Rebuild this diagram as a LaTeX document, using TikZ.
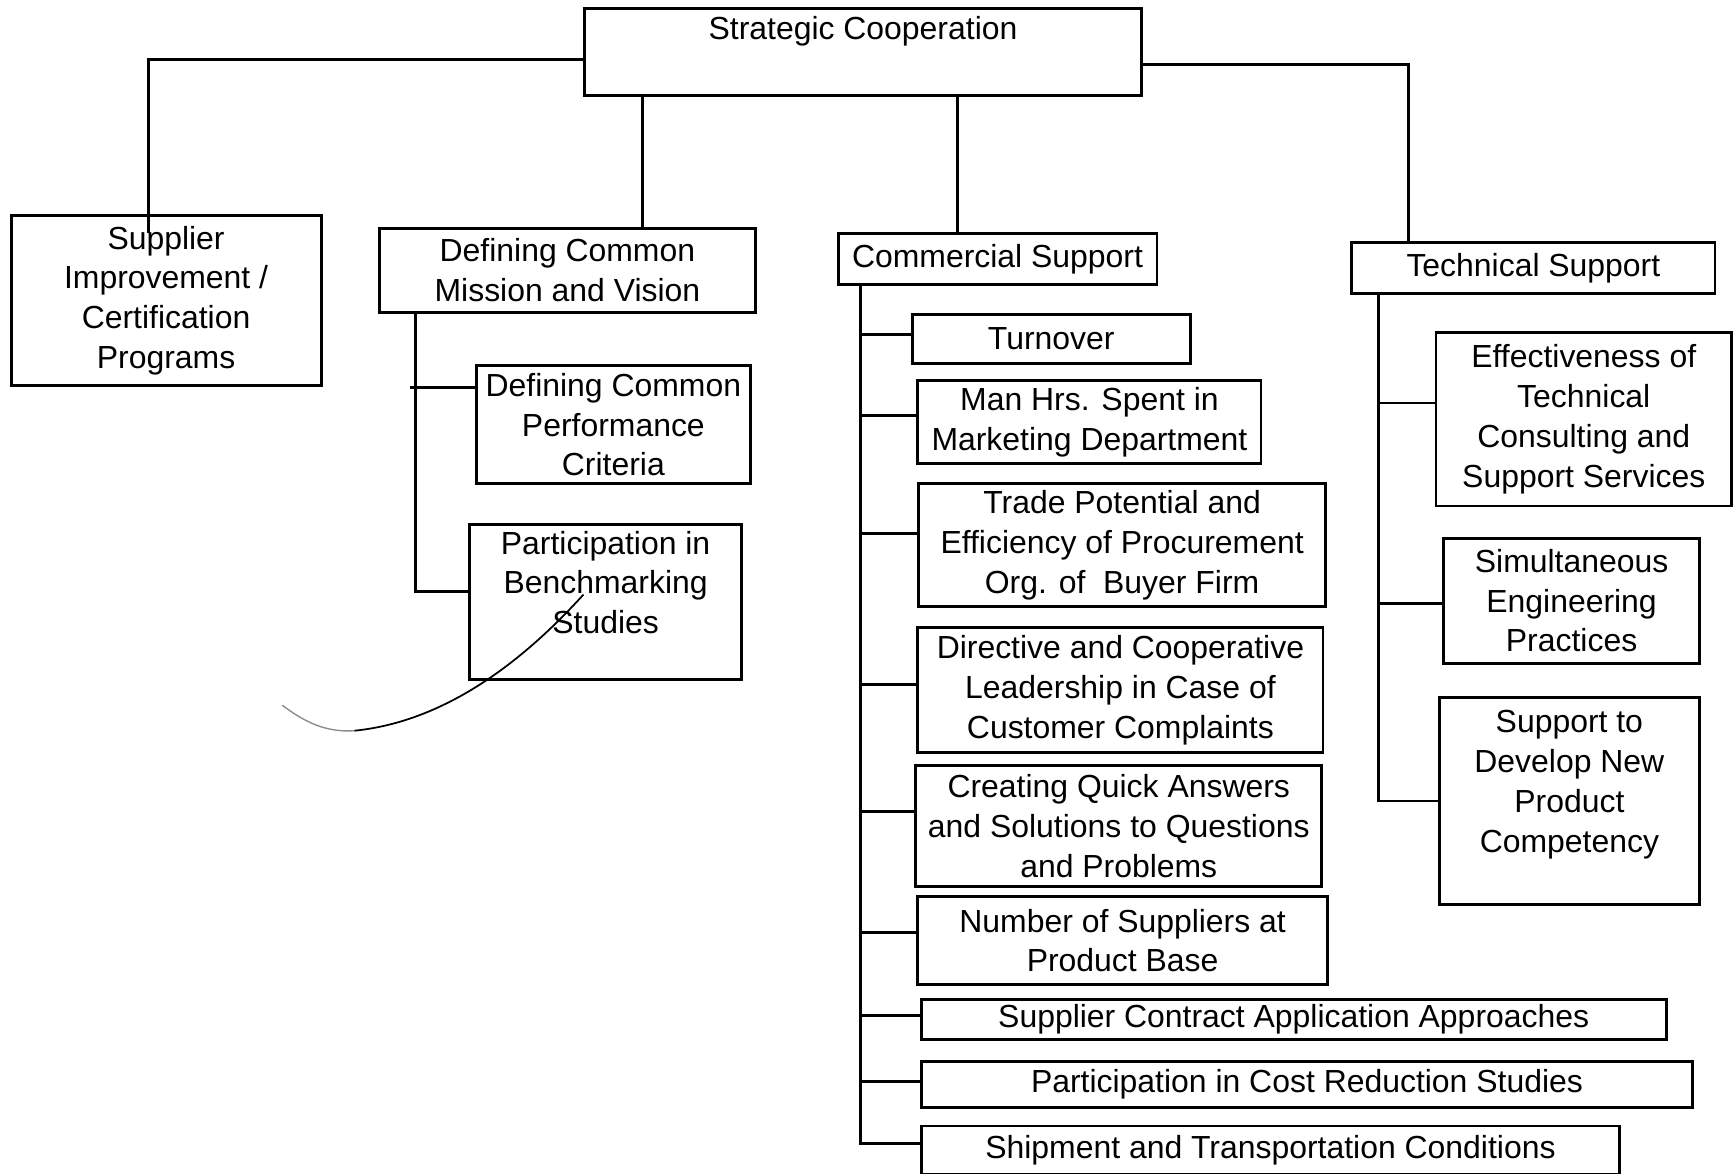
\documentclass[tikz,border=0pt]{standalone}
\usepackage{fontspec}
\setmainfont{Liberation Sans}
\usetikzlibrary{calc}
\begin{document}
\begin{tikzpicture}[x=0.01cm,y=-0.01cm,
  box/.style={draw, line width=0.75pt, inner sep=0pt, align=center,
    font=\fontsize{8.2}{10.24}\selectfont},
  wh/.style 2 args={minimum width=#1*0.01cm, minimum height=#2*0.01cm},
  link/.style={line width=0.75pt}]

\fill[white] (0,0) rectangle (1568,1060);
\useasboundingbox (0,0) rectangle (1568,1060);

% root
\node[box, wh={503}{78}] (strat) at (779.5,47) {Strategic Cooperation\\[0.08cm]\mbox{}};

% first level
\node[box, wh={280}{153}] (sup)  at (150,271.5) {Supplier\\Improvement /\\Certification\\Programs};
\node[box, wh={339}{76}]  (mis)  at (512.5,244) {Defining Common\\Mission and Vision};
\node[box, wh={288}{46}]  (com)  at (901,234)   {Commercial Support};
\node[box, wh={328}{46}]  (tech) at (1385,242)  {Technical Support};

% mission and vision branch
\node[box, wh={248}{107}] (perf)  at (554,383.5) {Defining Common\\Performance\\Criteria};
\node[box, wh={246}{140}] (bench) at (547,544)   {Participation in\\Benchmarking\\Studies\\\mbox{}};

% commercial support branch
\node[box, wh={251}{44}]  (turn)  at (949.5,306)   {Turnover};
\node[box, wh={310}{75}]  (man)   at (984,381.5)   {Man Hrs. Spent in\\Marketing Department};
\node[box, wh={367}{111}] (trade) at (1013.5,492.5){Trade Potential and\\Efficiency of Procurement\\Org. of\ \ Buyer Firm};
\node[box, wh={366}{113}] (dir)   at (1012,623.5)  {Directive and Cooperative\\Leadership in Case of\\Customer Complaints};
\node[box, wh={367}{110}] (cre)   at (1010.5,746)  {Creating Quick Answers\\and Solutions to Questions\\and Problems};
\node[box, wh={370}{79}]  (num)   at (1014,849.5)  {Number of Suppliers at\\Product Base};
\node[box, wh={673}{36}]  (scon)  at (1168.5,921)  {Supplier Contract Application Approaches};
\node[box, wh={697}{41}]  (cost)  at (1180.5,979.5){Participation in Cost Reduction Studies};
\node[box, wh={631}{44}]  (ship)  at (1147.5,1039) {Shipment and Transportation Conditions};

% technical support branch
\node[box, wh={267}{157}] (eff) at (1430.5,378.5) {Effectiveness of\\Technical\\Consulting and\\Support Services};
\node[box, wh={231}{113}] (sim) at (1419.5,542.5) {Simultaneous\\Engineering\\Practices};
\node[box, wh={235}{187}] (dev) at (1417.5,723.5) {Support to\\Develop New\\Product\\Competency\\\mbox{}};

% root to first level
\draw[link] ($(strat.west)+(0,7)$) -| ($(sup.north)+(-16,17)$);
\draw[link] ($(mis.north)+(67.5,0)$) coordinate (m1) -- (m1 |- strat.south);
\draw[link] ($(com.north)+(-36,0)$) coordinate (c1) -- (c1 |- strat.south);
\draw[link] ($(strat.east)+(0,11)$) -| ($(tech.north)+(-113,0)$);

% mission and vision trunk
\coordinate (mt) at ($(mis.south)+(-137.5,0)$);
\draw[link] (mt) |- ($(bench.west)+(0,-10)$);
\draw[link] ($(perf.west)+(0,-33.5)$) coordinate (pb) -- ($(pb -| mt)+(-5,0)$);

% commercial support trunk
\coordinate (ct) at ($(com.south)+(-124,0)$);
\draw[link] (ct) |- ($(ship.west)+(0,-6)$);
\foreach \n/\d in {turn/-4, man/-6.5, trade/-10.5, dir/-5.5, cre/-13, num/-7.5, scon/-4, cost/-2.5}
  \draw[link] ($(\n.west)+(0,\d)$) coordinate (b) -- (b -| ct);

% technical support trunk
\coordinate (tt) at ($(tech.south)+(-140,0)$);
\draw[link] (tt) |- (dev.west);
\foreach \n/\d in {eff/-14.5, sim/2.5}
  \draw[link] ($(\n.west)+(0,\d)$) coordinate (b) -- (b -| tt);

% pen stroke across the benchmarking box
\draw[line width=0.45pt] (527,537) .. controls (470,600) and (400,652) .. (320,660);
\draw[line width=0.35pt, black!45] (320,660) .. controls (290,662) and (270,648) .. (255,637);

\end{tikzpicture}
\end{document}
